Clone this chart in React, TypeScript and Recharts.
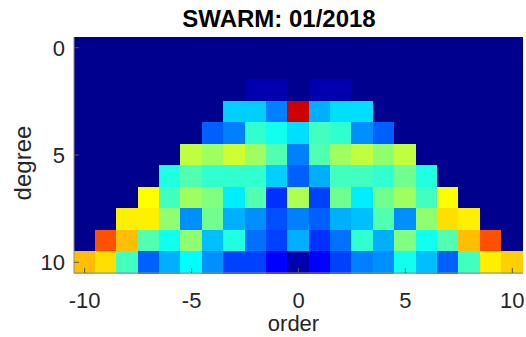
import { BarChart, Bar, XAxis, YAxis, Cell } from 'recharts';

// colour levels on the jet(64) scale, one row per degree, orders -n..n
const orders = [-10, -9, -8, -7, -6, -5, -4, -3, -2, -1, 0, 1, 2, 3, 4, 5, 6, 7, 8, 9, 10];
const degrees = [0, 1, 2, 3, 4, 5, 6, 7, 8, 9, 10];
const levels: number[][] = [
  [0],
  [0, 0, 0],
  [2, 2, 0, 2, 2],
  [20, 20, 15, 58, 18, 21, 21],
  [13, 15, 26, 24, 21, 27, 26, 16, 13],
  [35, 33, 36, 33, 28, 15, 28, 33, 35, 32, 35],
  [25, 28, 26, 26, 26, 20, 13, 18, 27, 27, 26, 30, 25],
  [39, 27, 33, 31, 22, 28, 10, 34, 11, 30, 22, 30, 33, 27, 39],
  [40, 40, 32, 16, 30, 18, 16, 12, 15, 13, 18, 19, 28, 16, 32, 41, 40],
  [50, 43, 28, 24, 32, 19, 25, 14, 11, 18, 10, 14, 26, 18, 31, 24, 28, 43, 50],
  [43, 41, 27, 13, 18, 23, 16, 11, 11, 7, 2, 7, 11, 15, 16, 24, 19, 13, 27, 40, 42],
];
const yTicks = [0, 5, 10];

const font = '"Liberation Sans", Arial, Helvetica, sans-serif';
const ink = '#262626';

function jet(t: number) {
  const c = (v: number) => Math.round(255 * Math.max(0, Math.min(1, v)));
  const r = c(Math.min((t - 23) / 16, (71 - t) / 16));
  const g = c(Math.min((t - 7) / 16, (55 - t) / 16));
  const b = c(Math.min((t + 9) / 16, (39 - t) / 16));
  return `rgb(${r},${g},${b})`;
}

function level(n: number, m: number) {
  if (Math.abs(m) > n) return 0;
  return levels[n][m + n];
}

const data = orders.map((m) => {
  const row: Record<string, number> = { order: m };
  degrees.forEach((n) => {
    row[`d${n}`] = 1;
  });
  return row;
});

export default function App() {
  const tick = { fill: ink, fontSize: 22, fontFamily: font };
  return (
    <div style={{ position: 'absolute', left: 0, top: 0, width: 526, height: 337, background: '#fff', overflow: 'hidden' }}>
      <BarChart
        width={526}
        height={337}
        data={data}
        margin={{ top: 37, right: 3, bottom: 24, left: 0 }}
        barCategoryGap={0}
        barGap={0}
      >
        <XAxis
          dataKey="order"
          interval={4}
          height={40}
          tick={tick}
          tickSize={-5}
          tickMargin={24}
          axisLine={{ stroke: '#8c8c8c' }}
          tickLine={{ stroke: '#555' }}
        />
        <XAxis
          xAxisId="top"
          dataKey="order"
          orientation="top"
          interval={4}
          height={0}
          mirror
          tickSize={5}
          tickFormatter={() => ''}
          axisLine={{ stroke: '#8c8c8c' }}
          tickLine={{ stroke: '#555' }}
        />
        <YAxis
          type="number"
          domain={[0, 11]}
          reversed
          ticks={yTicks.map((d) => d + 0.5)}
          tickFormatter={(v: number) => String(v - 0.5)}
          width={74}
          tick={tick}
          tickSize={-5}
          tickMargin={14}
          axisLine={{ stroke: '#8c8c8c' }}
          tickLine={{ stroke: '#555' }}
        />
        <YAxis
          yAxisId="right"
          orientation="right"
          type="number"
          domain={[0, 11]}
          reversed
          ticks={yTicks.map((d) => d + 0.5)}
          width={0}
          mirror
          tickSize={5}
          tickFormatter={() => ''}
          axisLine={{ stroke: '#8c8c8c' }}
          tickLine={{ stroke: '#555' }}
        />
        {degrees.map((n) => (
          <Bar key={n} dataKey={`d${n}`} stackId="s" isAnimationActive={false}>
            {orders.map((m) => (
              <Cell
                key={m}
                fill={jet(level(n, m))}
                stroke={jet(level(n, m))}
                strokeWidth={1}
                shapeRendering="crispEdges"
              />
            ))}
          </Bar>
        ))}
      </BarChart>
      <div
        style={{
          position: 'absolute',
          left: 279,
          top: 7,
          transform: 'translateX(-50%)',
          fontFamily: font,
          fontWeight: 'bold',
          fontSize: 24,
          lineHeight: '24px',
          color: '#000',
          whiteSpace: 'nowrap',
        }}
      >
        SWARM: 01/2018
      </div>
      <div
        style={{
          position: 'absolute',
          left: 293.5,
          top: 314.4,
          transform: 'translateX(-50%)',
          fontFamily: font,
          fontSize: 22,
          lineHeight: '20px',
          color: ink,
          whiteSpace: 'nowrap',
        }}
      >
        order
      </div>
      <div
        style={{
          position: 'absolute',
          left: 22.7 - 100,
          top: 162.5 - 12,
          width: 200,
          height: 24,
          textAlign: 'center',
          transform: 'rotate(-90deg)',
          fontFamily: font,
          fontSize: 24,
          lineHeight: '24px',
          color: ink,
          whiteSpace: 'nowrap',
        }}
      >
        degree
      </div>
    </div>
  );
}
